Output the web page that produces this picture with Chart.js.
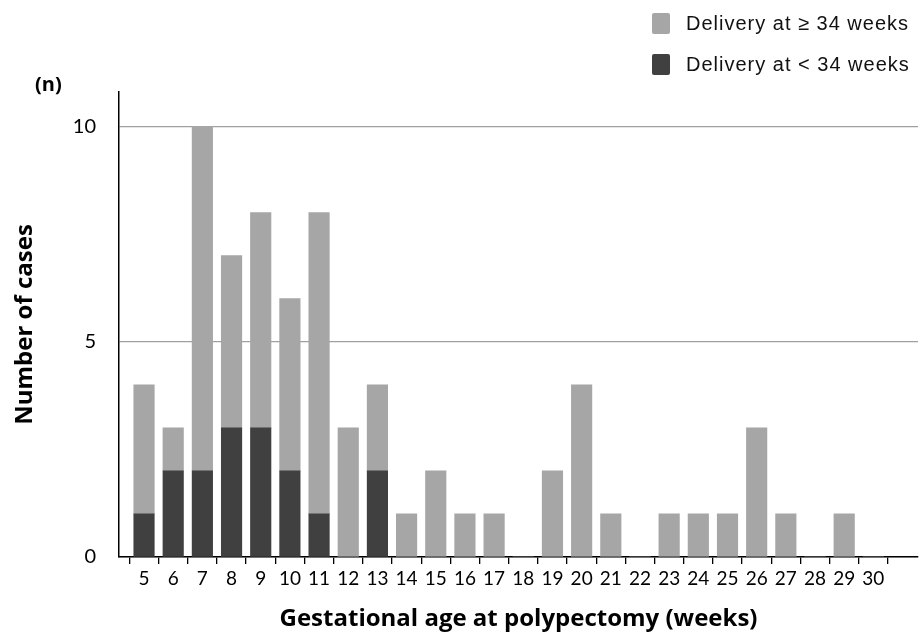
<!DOCTYPE html>
<html lang="en">
<head>
  <meta charset="UTF-8">
  <title>Gestational age at polypectomy</title>
  <script src="https://cdn.jsdelivr.net/npm/chart.js"></script>
  <style>
    html, body { margin: 0; padding: 0; background: #fff; }
    #wrap { width: 921px; height: 637px; position: relative; }
  </style>
</head>
<body>
  <div id="wrap"><canvas id="polypChart" width="921" height="637"></canvas></div>

  <script>
    // gestational week at polypectomy and number of cases per week
    const weeks = [5, 6, 7, 8, 9, 10, 11, 12, 13, 14, 15, 16, 17, 18, 19, 20, 21, 22, 23, 24, 25, 26, 27, 28, 29, 30];
    const before34 = [1, 2, 2, 3, 3, 2, 1, 0, 2, 0, 0, 0, 0, 0, 0, 0, 0, 0, 0, 0, 0, 0, 0, 0, 0, 0];
    const after34  = [3, 1, 8, 4, 5, 4, 7, 3, 2, 1, 2, 1, 1, 0, 2, 4, 1, 0, 1, 1, 1, 3, 1, 0, 1, 0];
    const yTicks = [0, 5, 10];

    const lightGrey = '#a6a6a6';
    const darkGrey = '#404040';
    const tickFont = 'Lato, "Open Sans", sans-serif';
    const titleFont = '"Open Sans", Lato, sans-serif';

    // legend drawn top right, stacked, light one first
    const sideLegend = {
      id: 'sideLegend',
      afterDraw(chart) {
        const ctx = chart.ctx;
        const sets = [chart.data.datasets[1], chart.data.datasets[0]];
        ctx.save();
        ctx.font = '20px "Liberation Sans", Arial, sans-serif';
        ctx.letterSpacing = '1px';
        ctx.textBaseline = 'middle';
        sets.forEach(function(ds, i) {
          const y = 23 + i * 41;
          ctx.fillStyle = ds.backgroundColor;
          ctx.beginPath();
          ctx.roundRect(652, y - 10, 18, 21, 2);
          ctx.fill();
          ctx.fillStyle = '#111';
          ctx.fillText(ds.label, 686, y + 1);
        });
        // unit label above the y axis
        ctx.letterSpacing = '0px';
        ctx.font = 'bold 20px ' + titleFont;
        ctx.fillStyle = '#000';
        ctx.fillText('(n)', 35, 85);
        ctx.restore();
      }
    };

    new Chart(document.getElementById('polypChart'), {
      type: 'bar',
      data: {
        datasets: [
          {
            label: 'Delivery at < 34 weeks',
            data: weeks.map(function(w, i) { return { x: w, y: before34[i] }; }),
            backgroundColor: darkGrey,
            barThickness: 20.5
          },
          {
            label: 'Delivery at \u2265 34 weeks',
            data: weeks.map(function(w, i) { return { x: w, y: after34[i] }; }),
            backgroundColor: lightGrey,
            barThickness: 20.5
          }
        ]
      },
      options: {
        responsive: false,
        animation: false,
        layout: { padding: { top: 92, right: 3, left: 0, bottom: 0 } },
        plugins: {
          legend: { display: false },
          tooltip: { enabled: false }
        },
        scales: {
          x: {
            type: 'linear',
            stacked: true,
            offset: false,
            min: 4.142,
            max: 31.53,
            afterBuildTicks: function(scale) {
              scale.ticks = weeks.map(function(w) { return { value: w }; });
            },
            afterFit: function(scale) { scale.height = 80; },
            grid: {
              drawOnChartArea: false,
              color: '#000',
              tickLength: 7,
              lineWidth: 1.3
            },
            border: { color: '#000', width: 1.5 },
            ticks: {
              autoSkip: false,
              maxRotation: 0,
              padding: 3,
              color: '#000',
              font: { family: tickFont, size: 19 },
              callback: function(v) { return String(v); }
            },
            title: {
              display: true,
              text: 'Gestational age at polypectomy (weeks)',
              color: '#000',
              font: { family: titleFont, size: 24, weight: 'bold' },
              padding: { top: 0, bottom: 3 }
            }
          },
          y: {
            stacked: true,
            min: 0,
            max: 10.8,
            afterBuildTicks: function(scale) {
              scale.ticks = yTicks.map(function(v) { return { value: v }; });
            },
            afterFit: function(scale) { scale.width = 119; },
            grid: {
              color: '#a0a0a0',
              lineWidth: 1.3,
              drawTicks: false
            },
            border: { color: '#000', width: 1.5 },
            ticks: {
              padding: 23,
              color: '#000',
              font: { family: tickFont, size: 20 }
            },
            title: {
              display: true,
              text: 'Number of cases',
              color: '#000',
              font: { family: titleFont, size: 24, weight: 'bold' },
              padding: { top: 11, bottom: 0 }
            }
          }
        }
      },
      plugins: [sideLegend]
    });
  </script>
</body>
</html>
